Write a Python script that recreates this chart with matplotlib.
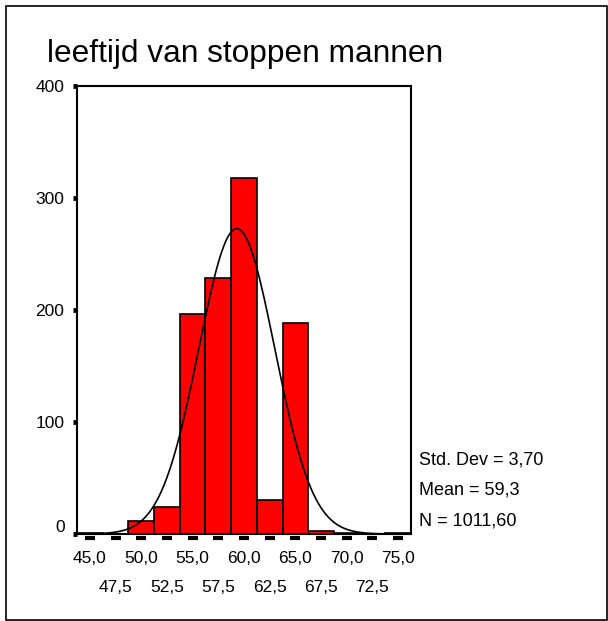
import numpy as np
import matplotlib
matplotlib.use("Agg")
import matplotlib.pyplot as plt
import matplotlib.transforms as mtrans
from matplotlib.patches import Rectangle

plt.rcParams['font.family'] = ['Liberation Sans', 'DejaVu Sans']

# histogram data (bin centres and counts)
centers = [45.0, 47.5, 50.0, 52.5, 55.0, 57.5, 60.0, 62.5, 65.0, 67.5, 70.0, 72.5, 75.0]
counts = [1, 0, 12, 24, 196, 229, 318, 30, 188, 3, 1, 0, 1]
major_labels = ["45,0", "50,0", "55,0", "60,0", "65,0", "70,0", "75,0"]
minor_labels = ["47,5", "52,5", "57,5", "62,5", "67,5", "72,5"]
yticks = [0, 100, 200, 300, 400]

title = "leeftijd van stoppen mannen"
std_dev = 3.70
mean = 59.3
n = 1011.60
binw = 2.5
stats_lines = ["Std. Dev = 3,70", "Mean = 59,3", "N = 1011,60"]

fs = 12.5

fig = plt.figure(figsize=(6.08, 6.21), dpi=100)
ax = fig.add_axes([77/608, 1 - 534/621, 334/608, 448/621])

ax.bar(centers, counts, width=binw, color="#ff0000", edgecolor="black", linewidth=1.2, zorder=2)

# normal curve from the stats shown
xs = np.linspace(centers[0] - binw/2, centers[-1] + binw/2, 400)
ys = n * binw / (std_dev * np.sqrt(2 * np.pi)) * np.exp(-0.5 * ((xs - mean) / std_dev) ** 2)
ax.plot(xs, ys, color="black", linewidth=1.2, zorder=3)

ax.set_xlim(centers[0] - binw/2, centers[-1] + binw/2)
ax.set_ylim(0, 400)

for s in ax.spines.values():
    s.set_linewidth(1.5)

ax.set_yticks(yticks)
ax.set_yticklabels([str(v) for v in yticks], fontsize=fs)
ax.tick_params(axis="y", length=3, width=3.5, pad=6, direction="out")
# the "0" sits a bit higher in the original
lbl0 = ax.get_yticklabels()[0]
lbl0.set_transform(lbl0.get_transform() + mtrans.ScaledTranslation(0, 0.08, fig.dpi_scale_trans))

ax.set_xticks(centers[::2])
ax.set_xticklabels(major_labels, fontsize=fs)
ax.set_xticks(centers[1::2], minor=True)
ax.set_xticklabels(minor_labels, minor=True, fontsize=fs)
ax.tick_params(axis="x", which="major", length=0, pad=12)
ax.tick_params(axis="x", which="minor", length=0, pad=33)

# little dashes under the axis at every bin
ax.plot(centers, [-0.01] * len(centers), linestyle="none", marker="_",
        markersize=7, markeredgewidth=3, color="black",
        transform=ax.get_xaxis_transform(), clip_on=False)

fig.text(47/608, 1 - 62/621, title, fontsize=22.8, va="baseline", ha="left")

for txt, ypix in zip(stats_lines, [460, 490, 521]):
    fig.text(419/608, 1 - ypix/621, txt, fontsize=fs + 0.5, va="center")

fig.patches.append(Rectangle((6/608, 1/621), 601/608, 614/621, transform=fig.transFigure,
                             fill=False, edgecolor="black", linewidth=1.2))

fig.savefig("out.png", dpi=100)
